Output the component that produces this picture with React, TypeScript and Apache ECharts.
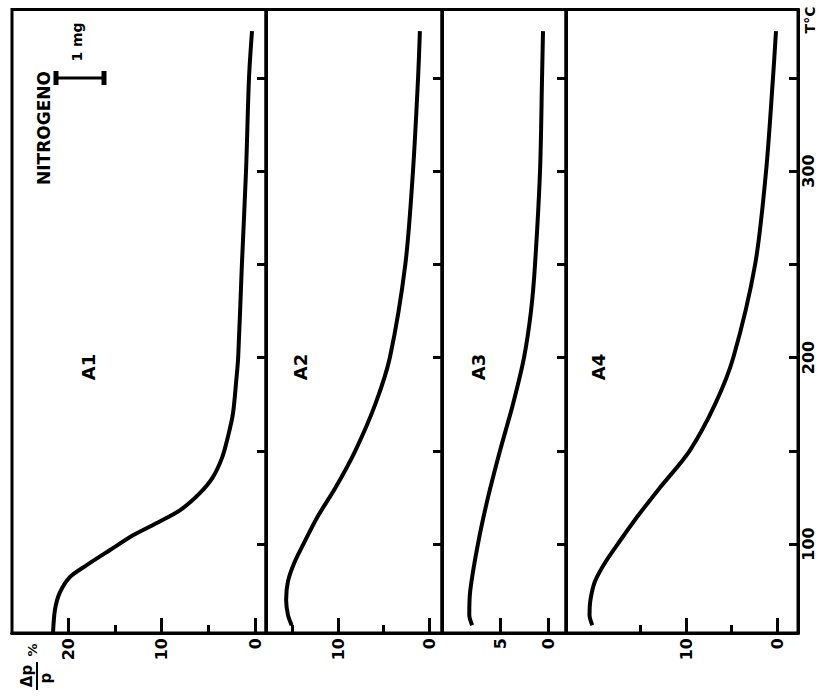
import React, { useEffect, useRef } from "react";
import * as echarts from "echarts";

// Temperature (°C) and weight loss Δp/p (%) for each sample under nitrogen
const tempA1 = [52.5, 64.6, 73.7, 82.3, 88.7, 96.8, 104.8, 111.3, 118.2, 127.3, 135.9, 146.6, 157.4, 170.2, 188, 200, 250, 300, 350, 375];
const lossA1 = [21.6, 21.4, 20.9, 19.8, 18.0, 15.5, 13.0, 10.5, 8.0, 5.9, 4.5, 3.5, 2.9, 2.35, 2.0, 1.8, 1.4, 0.96, 0.64, 0.32];

const tempA2 = [56.5, 62, 70, 80, 90, 100, 115, 130, 150, 175, 200, 250, 300, 350, 375];
const lossA2 = [15.1, 15.5, 15.7, 15.5, 14.8, 13.8, 12.2, 10.3, 8.1, 5.9, 4.3, 2.6, 1.76, 1.2, 1.0];

const tempA3 = [56.5, 62, 75, 100, 125, 150, 175, 200, 225, 250, 300, 350, 375];
const lossA3 = [7.9, 8.2, 8.1, 7.3, 6.25, 5.0, 3.65, 2.5, 1.77, 1.35, 0.83, 0.62, 0.52];

const tempA4 = [56.5, 62, 70, 80, 90, 100, 115, 130, 150, 175, 200, 250, 300, 350, 375];
const lossA4 = [20.3, 20.6, 20.5, 20.0, 18.9, 17.5, 15.3, 12.9, 9.6, 6.8, 4.8, 2.4, 1.2, 0.44, 0.11];

// Tick values
const tempTicks = [100, 150, 200, 250, 300, 350];
const tempTickLabels = [100, 200, 300];
const majorA1 = [0, 10, 20];
const minorA1 = [5, 15];
const majorA2 = [0, 10];
const minorA2 = [5, 15];
const majorA3 = [0, 5];
const minorA3: number[] = [];
const majorA4 = [0, 10];
const minorA4 = [5, 15];

const sampleNames = ["A1", "A2", "A3", "A4"];

const TEMP_MIN = 52.3;
const TEMP_MAX = 386.6;
const TOP = 9.5;
const HEIGHT = 623.5;
const FONT = '"DejaVu Sans", sans-serif';

// Panel layout: pixel extents and where the zero of each loss axis sits
const panels = [
  { left: 12, width: 254, zeroX: 255, pxPerUnit: 9.35, temps: tempA1, loss: lossA1, major: majorA1, minor: minorA1, labelX: 88 },
  { left: 266, width: 176, zeroX: 429, pxPerUnit: 9.1, temps: tempA2, loss: lossA2, major: majorA2, minor: minorA2, labelX: 300 },
  { left: 442, width: 124, zeroX: 548, pxPerUnit: 9.6, temps: tempA3, loss: lossA3, major: majorA3, minor: minorA3, labelX: 478 },
  { left: 566, width: 232, zeroX: 777, pxPerUnit: 9.1, temps: tempA4, loss: lossA4, major: majorA4, minor: minorA4, labelX: 598 },
];

function rotText(text: string, x: number, y: number, size: number) {
  return {
    type: "text",
    x,
    y,
    rotation: Math.PI / 2,
    style: {
      text,
      font: `bold ${size}px ${FONT}`,
      fill: "#000",
      textAlign: "center",
      textVerticalAlign: "middle",
    },
  };
}

export default function App() {
  const ref = useRef<HTMLDivElement>(null);

  useEffect(() => {
    document.body.style.margin = "0";
    if (!ref.current) return;
    const chart = echarts.init(ref.current, undefined, { renderer: "svg" });

    const grid: any[] = [];
    const xAxis: any[] = [];
    const yAxis: any[] = [];
    const series: any[] = [];

    panels.forEach((p, i) => {
      const max = (p.zeroX - p.left) / p.pxPerUnit;
      const min = (p.zeroX - (p.left + p.width)) / p.pxPerUnit;
      grid.push({
        left: p.left,
        top: TOP,
        width: p.width,
        height: HEIGHT,
        show: true,
        borderColor: "#000",
        borderWidth: 3,
        backgroundColor: "transparent",
      });
      xAxis.push({
        type: "value",
        gridIndex: i,
        position: "bottom",
        inverse: true,
        min,
        max,
        axisLine: { show: true, onZero: false, lineStyle: { color: "#000", width: 3 } },
        splitLine: { show: false },
        axisTick: {
          show: true,
          inside: true,
          length: 15,
          customValues: p.major,
          lineStyle: { color: "#000", width: 3 },
        },
        axisLabel: {
          show: true,
          customValues: p.major,
          rotate: 90,
          margin: 5,
          color: "#000",
          fontFamily: FONT,
          fontWeight: "bold",
          fontSize: 16,
        },
      });
      xAxis.push({
        type: "value",
        gridIndex: i,
        position: "bottom",
        inverse: true,
        min,
        max,
        axisLine: { show: true, onZero: false, lineStyle: { color: "#000", width: 3 } },
        splitLine: { show: false },
        axisTick: {
          show: p.minor.length > 0,
          inside: true,
          length: 8,
          customValues: p.minor,
          lineStyle: { color: "#000", width: 3 },
        },
        axisLabel: { show: false },
      });
      yAxis.push({
        type: "value",
        gridIndex: i,
        position: "right",
        min: TEMP_MIN,
        max: TEMP_MAX,
        axisLine: { show: true, onZero: false, lineStyle: { color: "#000", width: 3 } },
        splitLine: { show: false },
        axisTick: {
          show: true,
          inside: true,
          length: 9,
          customValues: tempTicks,
          lineStyle: { color: "#000", width: 3 },
        },
        axisLabel: {
          show: i === panels.length - 1,
          customValues: tempTickLabels,
          rotate: 90,
          margin: 2,
          color: "#000",
          fontFamily: FONT,
          fontWeight: "bold",
          fontSize: 16,
        },
      });
      series.push({
        name: sampleNames[i],
        type: "line",
        xAxisIndex: i * 2,
        yAxisIndex: i,
        data: p.temps.map((t, k) => [p.loss[k], t]),
        showSymbol: false,
        smooth: 0.3,
        lineStyle: { color: "#000", width: 4 },
      });
    });

    const graphic: any[] = [
      rotText("NITROGENO", 44, 128, 17),
      rotText("1 mg", 77, 42, 14),
      { type: "line", shape: { x1: 56, y1: 78, x2: 104, y2: 78 }, style: { stroke: "#000", lineWidth: 3 } },
      { type: "line", shape: { x1: 56, y1: 71, x2: 56, y2: 85 }, style: { stroke: "#000", lineWidth: 5 } },
      { type: "line", shape: { x1: 104, y1: 71, x2: 104, y2: 85 }, style: { stroke: "#000", lineWidth: 5 } },
      rotText("T°C", 810, 20, 14),
      rotText("Δp", 27, 676, 15),
      rotText("%", 32, 650, 13),
      { type: "line", shape: { x1: 37, y1: 662, x2: 37, y2: 690 }, style: { stroke: "#000", lineWidth: 2 } },
      rotText("p", 46, 678, 15),
      ...panels.map((p, i) => rotText(sampleNames[i], p.labelX, 367, 18)),
    ];

    chart.setOption({
      animation: false,
      backgroundColor: "#fff",
      grid,
      xAxis,
      yAxis,
      series,
      graphic,
    });

    return () => chart.dispose();
  }, []);

  return <div ref={ref} style={{ width: 823, height: 698 }} />;
}
